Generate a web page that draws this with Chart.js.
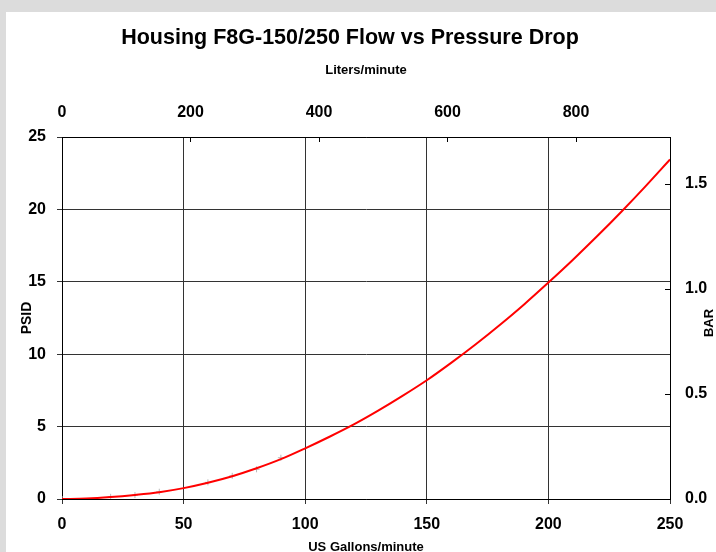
<!DOCTYPE html>
<html>
<head>
<meta charset="utf-8">
<script src="https://cdn.jsdelivr.net/npm/chart.js@4.4.1/dist/chart.umd.min.js"></script>
<style>
    html, body { margin: 0; padding: 0; background: #dcdcdc; overflow: hidden; }
    #wrap { position: absolute; left: 6px; top: 12px; width: 710px; height: 560px; background: #fff; }
</style>
</head>
<body>
<div id="wrap"><canvas id="myChart" width="710" height="560"></canvas></div>
<script>
// flow in US gallons/minute, pressure drop in psid
const gallons = [0, 10, 20, 30, 40, 50, 60, 70, 80, 90, 100, 110, 120, 130, 140, 150, 160, 170, 180, 190, 200, 210, 220, 230, 240, 250]
const psid = [0, 0.03, 0.13, 0.28, 0.47, 0.75, 1.12, 1.57, 2.12, 2.75, 3.5, 4.3, 5.15, 6.1, 7.12, 8.2, 9.4, 10.67, 12.02, 13.44, 14.95, 16.51, 18.14, 19.84, 21.61, 23.45]

// faint test points under the curve
const sampleGallons = [0, 20, 30, 40, 60, 70, 80, 90]
const samplePsid = [0, 0.15, 0.27, 0.5, 1.15, 1.6, 2.05, 2.85]

const chartTitle = 'Housing F8G-150/250 Flow vs Pressure Drop'

const LITERS_PER_GALLON = 3.78541
const PSI_PER_BAR = 14.5038
const maxGallons = 250
const maxPsid = 25

const FAMILY = "'Liberation Sans', Arial, sans-serif"
const boldFont = (size) => ({ family: FAMILY, size: size, weight: 'bold' })

// ticks on the top and right axes point into the plot, BAR title reading upwards,
// and the main title (sits a bit left of the canvas centre in the original)
const innerTicks = {
    id: 'innerTicks',
    afterDraw(chart) {
        const { ctx, chartArea } = chart
        const top = chart.scales.x2
        const right = chart.scales.y2
        ctx.save()
        ctx.strokeStyle = '#000'
        ctx.lineWidth = 1
        top.ticks.forEach(t => {
            const px = Math.round(top.getPixelForValue(t.value)) + 0.5
            ctx.beginPath()
            ctx.moveTo(px, chartArea.top)
            ctx.lineTo(px, chartArea.top + 5)
            ctx.stroke()
        })
        right.ticks.forEach(t => {
            const py = Math.round(right.getPixelForValue(t.value)) + 0.5
            ctx.beginPath()
            ctx.moveTo(chartArea.right, py)
            ctx.lineTo(chartArea.right - 5, py)
            ctx.stroke()
        })
        ctx.fillStyle = '#000'
        ctx.textAlign = 'center'
        ctx.textBaseline = 'middle'

        ctx.font = 'bold 21.5px ' + FAMILY
        ctx.fillText(chartTitle, chart.width / 2 - 11, 26)

        ctx.translate(chartArea.right + 39, (chartArea.top + chartArea.bottom) / 2 + 5)
        ctx.rotate(-Math.PI / 2)
        ctx.font = 'bold 13px ' + FAMILY
        ctx.fillText('BAR', 0, 0)
        ctx.restore()
    }
}

const ctx = document.getElementById('myChart')

new Chart(ctx, {
    type: 'line',
    data: {
        datasets: [{
            label: 'Pressure drop',
            data: gallons.map((g, i) => ({ x: g, y: psid[i] })),
            borderColor: '#ff0000',
            borderWidth: 2,
            pointRadius: 0,
            cubicInterpolationMode: 'monotone',
            order: 0
        }, {
            type: 'scatter',
            label: 'Samples',
            data: sampleGallons.map((g, i) => ({ x: g, y: samplePsid[i] })),
            pointStyle: 'crossRot',
            rotation: 45,
            pointRadius: 3,
            borderColor: '#b8b8b8',
            borderWidth: 1,
            order: 1
        }]
    },
    options: {
        responsive: false,
        animation: false,
        layout: { padding: 0 },
        plugins: {
            legend: { display: false },
            tooltip: { enabled: false },
            title: { display: false }
        },
        scales: {
            x: {
                type: 'linear',
                position: 'bottom',
                min: 0,
                max: maxGallons,
                ticks: { stepSize: 50, color: '#000', font: boldFont(16), padding: 11, maxRotation: 0 },
                grid: { color: '#333', lineWidth: 1, tickLength: 5 },
                border: { color: '#000', width: 1 },
                title: { display: true, text: 'US Gallons/minute', color: '#000', font: boldFont(13), padding: { bottom: 17 } },
                afterFit: s => { s.height = 73 }
            },
            x2: {
                type: 'linear',
                position: 'top',
                min: 0,
                max: maxGallons * LITERS_PER_GALLON,
                ticks: { stepSize: 200, includeBounds: false, color: '#000', font: boldFont(16), padding: 15, maxRotation: 0 },
                grid: { drawOnChartArea: false, drawTicks: false },
                border: { color: '#000', width: 1 },
                title: { display: true, text: 'Liters/minute', color: '#000', font: boldFont(13), padding: { top: 51 } },
                afterFit: s => { s.height = 125 }
            },
            y: {
                type: 'linear',
                position: 'left',
                min: 0,
                max: maxPsid,
                ticks: { stepSize: 5, color: '#000', font: boldFont(16), padding: 11 },
                grid: { color: '#333', lineWidth: 1, tickLength: 5 },
                border: { color: '#000', width: 1 },
                title: { display: true, text: 'PSID', color: '#000', font: boldFont(14), padding: { top: 13 } },
                afterFit: s => { s.width = 56 }
            },
            y2: {
                type: 'linear',
                position: 'right',
                min: 0,
                max: maxPsid / PSI_PER_BAR,
                ticks: { stepSize: 0.5, includeBounds: false, color: '#000', font: boldFont(16), padding: 15, callback: v => v.toFixed(1) },
                grid: { drawOnChartArea: false, drawTicks: false },
                border: { color: '#000', width: 1 },
                afterFit: s => { s.width = 46 }
            }
        }
    },
    plugins: [innerTicks]
});
</script>
</body>
</html>
